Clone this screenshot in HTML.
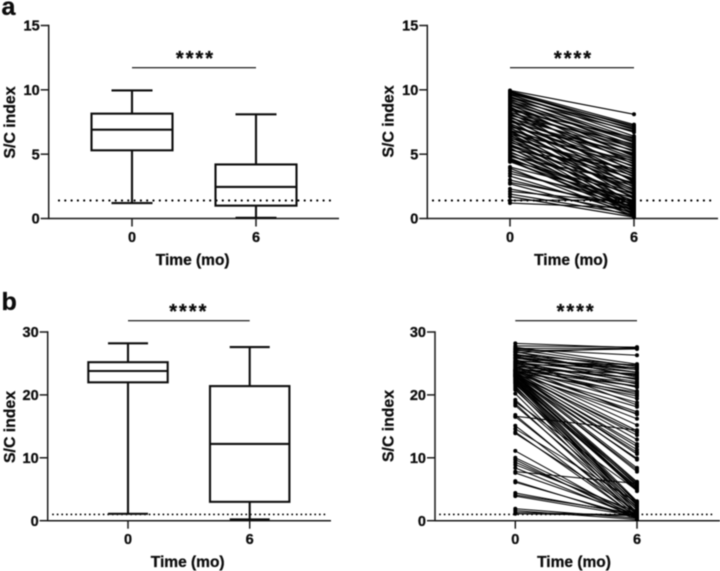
<!DOCTYPE html>
<html>
<head>
<meta charset="utf-8">
<style>
html,body{margin:0;padding:0;background:#fff;width:720px;height:571px;overflow:hidden}
svg{display:block}
text{font-family:"Liberation Sans",sans-serif;font-weight:bold;fill:#111;stroke:#111;stroke-width:0.3px}
</style>
</head>
<body>
<svg id="fig" width="720" height="571" viewBox="0 0 720 571" xmlns="http://www.w3.org/2000/svg">
<defs><filter id="soft" x="-5%" y="-5%" width="110%" height="110%"><feGaussianBlur stdDeviation="0.4"/></filter></defs>
<g filter="url(#soft)">
<text x="1.5" y="15" font-size="25">a</text>
<text x="1.5" y="310" font-size="25">b</text>
<g id="p1"></g>
<g id="p2"></g>
<g id="p3"></g>
<g id="p4"></g>
</g>
</svg>
<script>
const timeCategories = ['0', '6'];
const yTicksA = [0, 5, 10, 15];
const yTicksB = [0, 10, 20, 30];
const thresholdA = 1.4;
const thresholdB = 1.0;
// box stats: min, q1, median, q3, max
const boxA0 = [1.2, 5.3, 6.9, 8.15, 9.95];
const boxA6 = [0.05, 1.0, 2.45, 4.2, 8.1];
const boxB0 = [1.1, 22.0, 23.8, 25.2, 28.2];
const boxB6 = [0.2, 3.0, 12.2, 21.4, 27.6];
const pairedA0 = [9.95,9.9,9.85,9.8,9.7,9.65,9.6,9.5,9.45,9.4,9.3,9.2,9.15,9.1,9.0,8.9,8.85,8.8,8.7,8.6,8.55,8.5,8.4,8.3,8.25,8.2,8.1,8.0,7.95,7.9,7.8,7.7,7.65,7.6,7.5,7.4,7.35,7.3,7.2,7.1,7.05,7.0,6.9,6.85,6.8,6.7,6.6,6.55,6.5,6.4,6.3,6.25,6.2,6.1,6.0,5.9,5.8,5.75,5.7,5.6,5.5,5.4,5.3,5.2,5.1,5.0,4.9,4.8,4.7,4.6,4.55,4.5,4.45,4.4,4.0,3.9,3.7,3.5,3.3,3.0,2.8,2.7,2.3,2.1,1.9,1.7,1.4,1.2];
const pairedA6 = [8.1,7.3,7.1,6.9,7.2,6.4,6.7,5.9,7.0,6.2,5.4,6.8,4.8,6.1,5.7,4.2,6.0,5.2,3.6,5.6,4.9,2.8,6.3,4.4,5.5,3.2,4.7,5.8,2.4,4.0,5.3,3.4,1.8,4.6,5.0,2.9,3.8,1.5,4.3,5.1,2.2,3.5,1.1,4.1,2.6,3.0,1.9,4.5,0.9,3.3,2.1,3.7,0.7,2.7,1.6,3.1,0.6,2.3,1.3,2.5,0.5,1.7,3.9,1.0,2.0,0.4,1.2,2.8,0.8,1.4,0.3,1.9,0.6,1.1,1.6,0.2,0.9,1.3,0.4,0.7,1.0,0.15,0.5,1.2,0.3,0.1,1.45,0.8];
const pairedB0 = [28.2,27.8,27.6,27.4,27.3,27.2,27.0,26.9,26.8,26.7,26.5,26.4,26.3,26.2,26.0,25.9,25.8,25.7,25.5,25.4,25.3,25.2,25.1,25.0,24.9,24.8,24.7,24.6,24.5,24.4,24.3,24.2,24.1,24.0,24.0,23.95,23.9,23.85,23.8,23.75,23.7,23.65,23.6,23.5,23.45,23.4,23.35,23.3,23.25,23.2,23.15,23.1,23.05,23.0,23.0,22.9,22.9,22.8,22.7,22.6,22.5,22.4,22.3,22.2,22.1,22.0,21.9,21.8,21.6,21.4,21.2,21.0,20.8,20.2,19.2,18.9,18.6,18.3,16.8,16.6,16.5,15.1,14.6,14.1,13.9,11.1,10.0,9.7,9.3,8.9,8.4,7.8,7.6,6.3,6.1,4.4,4.1,3.9,1.9,1.6,1.3,1.1];
const pairedB6 = [27.5,27.6,24.9,27.4,26.3,24.5,27.3,22.8,24.2,27.5,23.0,24.7,23.6,21.7,24.0,22.4,24.3,18.4,23.6,21.2,24.8,23.2,22.1,20.6,24.3,19.4,22.6,16.9,22.6,20.1,21.4,18.8,21.9,15.2,23.4,17.3,19.8,21.4,14.3,18.1,16.2,12.9,20.4,13.6,11.8,10.6,17.0,9.7,12.2,14.0,8.4,10.9,7.8,11.3,6.2,8.1,5.6,9.9,6.0,5.2,4.7,3.1,5.0,2.8,5.8,2.4,4.9,2.0,5.4,1.7,3.0,1.3,2.6,1.0,2.2,4.8,0.9,1.8,0.7,14.4,1.2,0.5,2.9,0.6,1.5,0.4,1.0,0.3,0.8,1.4,0.5,5.9,0.9,0.3,0.6,0.9,1.1,0.7,0.4,0.2,0.9,0.8];

const svgNS = 'http://www.w3.org/2000/svg';
function add(parent, tag, attrs, txt) {
  const el = document.createElementNS(svgNS, tag);
  for (const k in attrs) el.setAttribute(k, attrs[k]);
  if (txt !== undefined) el.textContent = txt;
  parent.appendChild(el);
  return el;
}
function makeScales(c) {
  return {
    y: v => c.y0 + (c.yTop - c.y0) * v / c.yMax,
    x: i => c.x0 + (c.x6 - c.x0) * i
  };
}
function frame(g, c, s, ticks, threshold) {
  const axisY = add(g, 'line', {x1: c.ax, x2: c.ax, y1: c.yTop - 0.7, y2: c.y0 + 0.7, stroke: '#1a1a1a', 'stroke-width': 1.5});
  
  
  const axisX = add(g, 'line', {x1: c.ax, x2: c.axEnd, y1: c.y0, y2: c.y0, stroke: '#1a1a1a', 'stroke-width': 1.5});
  
  
  ticks.forEach(t => {
    const tk = add(g, 'line', {x1: c.ax - 8, x2: c.ax, y1: s.y(t), y2: s.y(t), stroke: '#1a1a1a', 'stroke-width': 1.5});
    
    
    const lb = add(g, 'text', {x: c.ax - 9, y: s.y(t) + 5.2, 'font-size': 14.5, 'text-anchor': 'end'}, String(t));
    
    
  });
  timeCategories.forEach((t, i) => {
    const tk = add(g, 'line', {x1: s.x(i), x2: s.x(i), y1: c.y0, y2: c.y0 + 8, stroke: '#1a1a1a', 'stroke-width': 1.5});
    
    
    const lb = add(g, 'text', {x: s.x(i), y: c.y0 + 23.5, 'font-size': 14.5, 'text-anchor': 'middle'}, t);
    
    
  });
  const xt = add(g, 'text', {x: c.xTitle, y: c.y0 + 46.5, 'font-size': 15.5, 'text-anchor': 'middle'}, 'Time (mo)');
  
  
  const yt = add(g, 'text', {x: 0, y: 0, 'font-size': 15.8, 'text-anchor': 'middle', transform: 'translate(' + c.yTitleX + ',' + c.yTitleY + ') rotate(-90)'}, 'S/C index');
  
  
  const th = add(g, 'line', {x1: c.dotA, x2: c.dotB, y1: s.y(threshold), y2: s.y(threshold), stroke: '#000', 'stroke-width': c.dotW, 'stroke-linecap': 'round', 'stroke-dasharray': '0 ' + c.dotGap});
  
  
  const sb = add(g, 'line', {x1: s.x(0), x2: s.x(1), y1: c.sigY, y2: c.sigY, stroke: '#333', 'stroke-width': 1.4});
  
  
  const st = add(g, 'text', {x: (s.x(0) + s.x(1)) / 2 + c.starDx, y: c.sigY - 2.5, 'font-size': 20, 'letter-spacing': 2, 'text-anchor': 'middle'}, '****');
  
  
}
function box(g, c, s, i, b) {
  const cx = s.x(i), stroke = {stroke: '#111', 'stroke-width': 2.1, fill: 'none'};
  const whisk = add(g, 'path', Object.assign({d: 'M' + cx + ' ' + s.y(b[3]) + 'V' + s.y(b[4]) + 'M' + (cx - c.cap) + ' ' + s.y(b[4]) + 'H' + (cx + c.cap)}, stroke));
  
  
  const low = add(g, 'path', Object.assign({d: 'M' + cx + ' ' + s.y(b[1]) + 'V' + s.y(b[0]) + 'M' + (cx - c.cap) + ' ' + s.y(b[0]) + 'H' + (cx + c.cap)}, stroke));
  
  
  const r = add(g, 'rect', Object.assign({x: cx - c.boxW, y: s.y(b[3]), width: c.boxW * 2, height: s.y(b[1]) - s.y(b[3])}, stroke));
  
  
  const m = add(g, 'line', Object.assign({x1: cx - c.boxW, x2: cx + c.boxW, y1: s.y(b[2]), y2: s.y(b[2])}, stroke));
  
  
}
function paired(g, s, before, after, w) {
  before.forEach((v, k) => {
    const l = add(g, 'line', {x1: s.x(0), x2: s.x(1), y1: s.y(v), y2: s.y(after[k]), stroke: '#000', 'stroke-width': w});
    
    
    const p0 = add(g, 'circle', {cx: s.x(0), cy: s.y(v), r: 2, fill: '#000'});
    
    
    const p6 = add(g, 'circle', {cx: s.x(1), cy: s.y(after[k]), r: 2, fill: '#000'});
    
    
  });
}
const c1 = {ax: 48.7, axEnd: 339, x0: 132, x6: 256, y0: 218.5, yTop: 25.5, yMax: 15, xTitle: 192.7, yTitleX: 15, yTitleY: 122.5, dotA: 59, dotB: 336, dotGap: 6.3, dotW: 2.2, sigY: 67.7, starDx: 1.5, boxW: 40.5, cap: 20.5};
const c2 = {ax: 427.3, axEnd: 718, x0: 510, x6: 634, y0: 218.5, yTop: 25.5, yMax: 15, xTitle: 571, yTitleX: 393.5, yTitleY: 121.5, dotA: 433, dotB: 714, dotGap: 6.3, dotW: 2.2, sigY: 67.7, starDx: 1.5};
const c3 = {ax: 47.7, axEnd: 331, x0: 128, x6: 249.7, y0: 520.7, yTop: 332, yMax: 30, xTitle: 187.7, yTitleX: 15, yTitleY: 427, dotA: 53, dotB: 327, dotGap: 4.6, dotW: 1.9, sigY: 320.7, starDx: 0, boxW: 39.7, cap: 20};
const c4 = {ax: 435, axEnd: 720, x0: 515.3, x6: 637, y0: 520.7, yTop: 332, yMax: 30, xTitle: 574, yTitleX: 393.5, yTitleY: 426, dotA: 440, dotB: 714, dotGap: 4.6, dotW: 1.9, sigY: 320.7, starDx: 0};
const g1 = document.getElementById('p1'), g2 = document.getElementById('p2'), g3 = document.getElementById('p3'), g4 = document.getElementById('p4');
const s1 = makeScales(c1), s2 = makeScales(c2), s3 = makeScales(c3), s4 = makeScales(c4);
frame(g1, c1, s1, yTicksA, thresholdA);
box(g1, c1, s1, 0, boxA0);
box(g1, c1, s1, 1, boxA6);
frame(g2, c2, s2, yTicksA, thresholdA);
paired(g2, s2, pairedA0, pairedA6, 1.15);
frame(g3, c3, s3, yTicksB, thresholdB);
box(g3, c3, s3, 0, boxB0);
box(g3, c3, s3, 1, boxB6);
frame(g4, c4, s4, yTicksB, thresholdB);
paired(g4, s4, pairedB0, pairedB6, 1.0);
</script>
</body>
</html>
